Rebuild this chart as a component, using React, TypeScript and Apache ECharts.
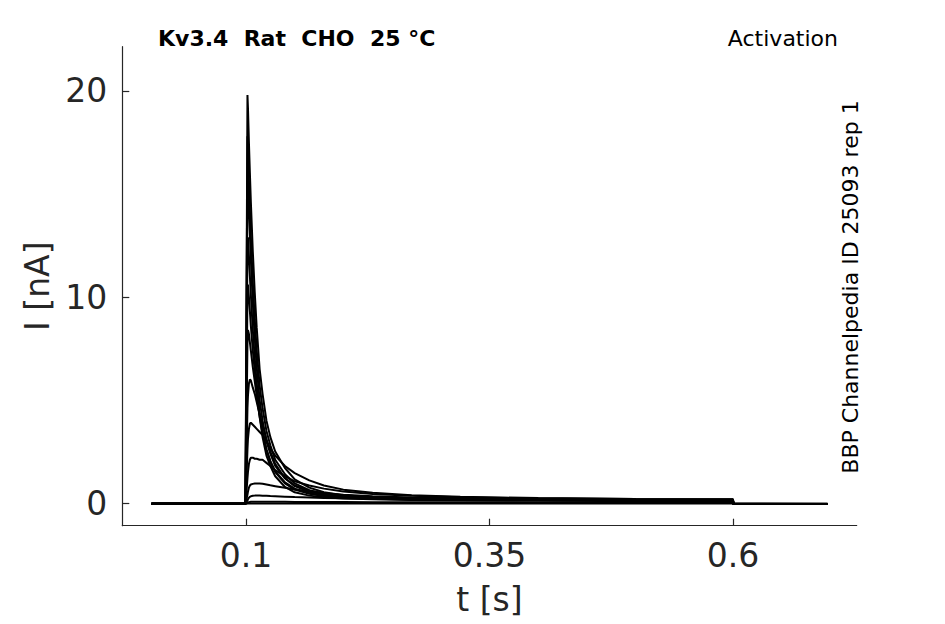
import React, { useEffect, useRef } from "react";
import * as echarts from "echarts";

// time points [s]
const timePoints = [0.003, 0.0995, 0.1, 0.1015, 0.102, 0.103, 0.104, 0.105, 0.107, 0.109, 0.111, 0.114, 0.117, 0.121, 0.125, 0.13, 0.14, 0.15, 0.165, 0.18, 0.2, 0.23, 0.27, 0.32, 0.4, 0.5, 0.6, 0.6005, 0.697];

// current traces [nA]
const traceA = [-0.03, -0.03, -0.03, 19.8, 19.2, 17.5, 16.0, 14.6, 12.2, 10.2, 8.5, 6.5, 5.3, 4.0, 3.2, 2.5, 1.7, 1.15, 0.75, 0.52, 0.38, 0.28, 0.22, 0.19, 0.17, 0.15, 0.13, -0.05, -0.05];
const traceB = [-0.03, -0.03, -0.03, 17.8, 17.1, 15.6, 14.2, 12.9, 10.7, 8.9, 7.4, 5.7, 4.6, 3.5, 2.8, 2.1, 1.4, 0.95, 0.62, 0.45, 0.34, 0.26, 0.21, 0.18, 0.16, 0.14, 0.12, -0.05, -0.05];
const traceC = [-0.03, -0.03, -0.03, 15.3, 15.6, 14.3, 13.0, 11.8, 9.7, 8.0, 6.6, 5.0, 4.0, 3.0, 2.4, 1.8, 1.2, 0.82, 0.55, 0.41, 0.31, 0.24, 0.2, 0.17, 0.15, 0.13, 0.11, -0.05, -0.05];
const traceD = [-0.03, -0.03, -0.03, 12.6, 12.9, 12.0, 11.0, 10.1, 8.4, 7.0, 5.8, 4.4, 3.5, 2.6, 2.05, 1.55, 1.0, 0.7, 0.48, 0.36, 0.28, 0.22, 0.18, 0.16, 0.14, 0.12, 0.1, -0.05, -0.05];
const traceE = [-0.03, -0.03, -0.03, 10.2, 10.6, 10.0, 9.3, 8.6, 7.4, 6.4, 5.5, 4.2, 3.2, 2.3, 1.8, 1.3, 0.78, 0.52, 0.36, 0.28, 0.22, 0.18, 0.15, 0.13, 0.12, 0.1, 0.09, -0.05, -0.05];
const traceF = [-0.03, -0.03, -0.03, 7.8, 8.4, 8.2, 7.8, 7.4, 6.6, 5.9, 5.2, 4.2, 3.4, 2.6, 2.0, 1.5, 0.95, 0.65, 0.45, 0.34, 0.27, 0.21, 0.17, 0.15, 0.13, 0.11, 0.1, -0.05, -0.05];
const traceG = [-0.03, -0.03, -0.03, 4.6, 5.2, 5.8, 6.0, 5.95, 5.6, 5.3, 4.9, 4.3, 3.8, 3.1, 2.5, 1.9, 1.2, 0.85, 0.6, 0.47, 0.37, 0.29, 0.23, 0.19, 0.16, 0.13, 0.11, -0.05, -0.05];
const traceH = [-0.03, -0.03, -0.03, 2.6, 3.1, 3.6, 3.85, 3.9, 3.8, 3.7, 3.6, 3.45, 3.3, 3.0, 2.65, 2.3, 1.8, 1.45, 1.1, 0.85, 0.65, 0.5, 0.38, 0.3, 0.24, 0.2, 0.18, -0.05, -0.05];
const traceI = [-0.03, -0.03, -0.03, 1.2, 1.5, 1.9, 2.1, 2.2, 2.2, 2.15, 2.15, 2.1, 2.1, 1.95, 1.8, 1.6, 1.3, 1.05, 0.85, 0.7, 0.56, 0.44, 0.35, 0.28, 0.23, 0.2, 0.18, -0.05, -0.05];
const traceJ = [-0.03, -0.03, -0.03, 0.4, 0.55, 0.75, 0.85, 0.9, 0.93, 0.95, 0.95, 0.95, 0.94, 0.9, 0.86, 0.82, 0.74, 0.66, 0.56, 0.48, 0.4, 0.33, 0.27, 0.23, 0.2, 0.17, 0.15, -0.05, -0.05];
const traceK = [-0.03, -0.03, -0.03, 0.12, 0.18, 0.26, 0.3, 0.33, 0.35, 0.36, 0.36, 0.36, 0.35, 0.35, 0.34, 0.33, 0.31, 0.29, 0.27, 0.25, 0.23, 0.2, 0.18, 0.16, 0.14, 0.12, 0.11, -0.05, -0.05];
const traceL = [-0.03, -0.03, -0.03, 0.0, 0.02, 0.04, 0.05, 0.06, 0.06, 0.06, 0.06, 0.06, 0.06, 0.06, 0.06, 0.06, 0.06, 0.05, 0.05, 0.05, 0.05, 0.04, 0.04, 0.04, 0.03, 0.03, 0.03, -0.04, -0.04];
const traceM = [-0.03, -0.03, -0.03, -0.02, -0.02, -0.02, -0.02, -0.02, -0.02, -0.02, -0.02, -0.02, -0.02, -0.02, -0.02, -0.02, -0.02, -0.02, -0.02, -0.02, -0.02, -0.02, -0.02, -0.02, -0.02, -0.02, -0.02, -0.04, -0.04];

const traces = [traceM, traceL, traceK, traceJ, traceI, traceH, traceG, traceF, traceE, traceD, traceC, traceB, traceA];

// axis ticks
const xTicks = [0.1, 0.35, 0.6];
const xTickLabels = ["0.1", "0.35", "0.6"];
const yTicks = [0, 10, 20];
const yTickLabels = ["0", "10", "20"];

const FONT = "DejaVu Sans";
const AXIS_COLOR = "#262626";

export default function App() {
  const ref = useRef<HTMLDivElement>(null);

  useEffect(() => {
    if (!ref.current) return;
    const chart = echarts.init(ref.current, undefined, { renderer: "svg" });
    const series = traces.map((tr, i) => ({
      type: "line",
      name: "trace" + i,
      data: timePoints.map((t, j) => [t, tr[j]]),
      showSymbol: false,
      symbol: "none",
      lineStyle: { color: "#000000", width: 2 },
      itemStyle: { color: "#000000" },
      silent: true,
    }));
    chart.setOption({
      animation: false,
      backgroundColor: "#ffffff",
      grid: { left: 122.3, right: 88.3, top: 46.7, bottom: 98.3, containLabel: false },
      xAxis: {
        type: "value",
        min: -0.027,
        max: 0.727,
        name: "t [s]",
        nameLocation: "middle",
        nameGap: 57,
        nameTextStyle: { fontFamily: FONT, fontSize: 33, color: AXIS_COLOR },
        axisLine: { show: true, onZero: false, lineStyle: { color: AXIS_COLOR, width: 1.2 } },
        axisTick: { show: true, inside: true, length: 7, customValues: xTicks, lineStyle: { color: AXIS_COLOR, width: 1.2 } },
        axisLabel: {
          show: true,
          customValues: xTicks,
          margin: 13,
          fontFamily: FONT,
          fontSize: 33,
          color: AXIS_COLOR,
          formatter: (v: number) => {
            const k = xTicks.findIndex((x) => Math.abs(x - v) < 1e-9);
            return k >= 0 ? xTickLabels[k] : "";
          },
        },
        splitLine: { show: false },
      },
      yAxis: {
        type: "value",
        min: -1.1,
        max: 22.15,
        name: "I [nA]",
        nameLocation: "middle",
        nameGap: 66,
        nameTextStyle: { fontFamily: FONT, fontSize: 33, color: AXIS_COLOR },
        axisLine: { show: true, onZero: false, lineStyle: { color: AXIS_COLOR, width: 1.2 } },
        axisTick: { show: true, inside: true, length: 7, customValues: yTicks, lineStyle: { color: AXIS_COLOR, width: 1.2 } },
        axisLabel: {
          show: true,
          customValues: yTicks,
          margin: 15,
          fontFamily: FONT,
          fontSize: 33,
          color: AXIS_COLOR,
          formatter: (v: number) => {
            const k = yTicks.findIndex((y) => Math.abs(y - v) < 1e-9);
            return k >= 0 ? yTickLabels[k] : "";
          },
        },
        splitLine: { show: false },
      },
      graphic: [
        {
          type: "text",
          left: 158,
          top: 27,
          style: { text: "Kv3.4  Rat  CHO  25 °C", fontFamily: FONT, fontSize: 22, fontWeight: "bold", fill: "#000000" },
        },
        {
          type: "text",
          right: 107,
          top: 27,
          style: { text: "Activation", fontFamily: FONT, fontSize: 22, fill: "#000000" },
        },
        {
          type: "text",
          x: 850,
          y: 287,
          rotation: Math.PI / 2,
          style: {
            text: "BBP Channelpedia ID 25093 rep 1",
            fontFamily: FONT,
            fontSize: 22,
            fill: "#000000",
            align: "center",
            verticalAlign: "middle",
          },
        },
      ],
      series,
    });
    return () => chart.dispose();
  }, []);

  return (
    <div
      ref={ref}
      style={{ position: "fixed", left: 0, top: 0, width: 945, height: 624, background: "#fff" }}
    />
  );
}
